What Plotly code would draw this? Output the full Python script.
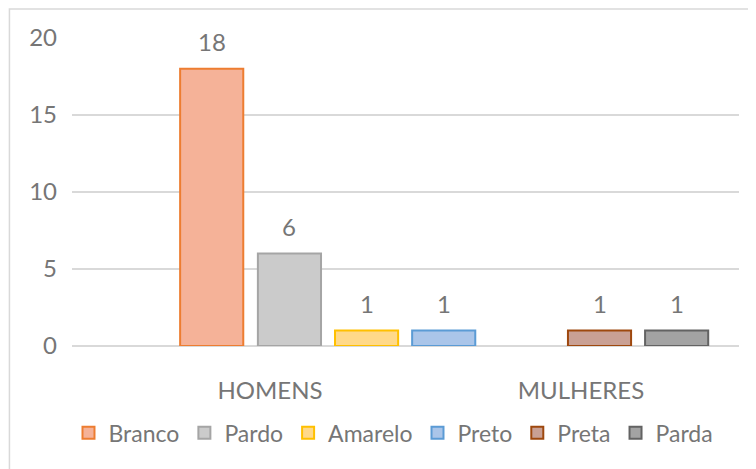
import plotly.graph_objects as go

# ---- data ----
categories = ["HOMENS", "MULHERES"]
series_names = ["Branco", "Pardo", "Amarelo", "Preto", "Preta", "Parda"]
branco = [18, None]
pardo = [6, None]
amarelo = [1, None]
preto = [1, None]
preta = [None, 1]
parda = [None, 1]
y_ticks = [0, 5, 10, 15, 20]

# ---- styles ----
series_values = [branco, pardo, amarelo, preto, preta, parda]
fills = ["#F5B298", "#CBCBCB", "#FFD98A", "#AAC5E9", "#C9A094", "#A3A3A3"]
lines = ["#ED7D31", "#A5A5A5", "#FFC000", "#5B9BD5", "#9E480E", "#636363"]
# left edge of each series bar relative to its category position (axis units)
slot_offsets = [-0.289, -0.039, 0.209, 0.457, -0.042, 0.206]
bar_width = 0.203

FONT = "Lato"
TXT = "#767676"
GRID = "#D9D9D9"

fig = go.Figure()
annotations = []
xpos = list(range(len(categories)))
for name, vals, fc, lc, off in zip(series_names, series_values, fills, lines, slot_offsets):
    fig.add_trace(go.Bar(
        x=xpos, y=vals, name=name,
        offset=off, width=bar_width,
        marker=dict(color=fc, line=dict(color=lc, width=2)),
    ))
    for i, v in enumerate(vals):
        if v is not None:
            annotations.append(dict(
                x=i + off + bar_width / 2, y=v, xref="x", yref="y",
                text=str(v), showarrow=False, yanchor="middle", yshift=27,
                font=dict(family=FONT, size=24, color=TXT),
            ))

# page body has an 8px margin, so the figure is 8px smaller and shifted
fig.update_layout(
    width=748, height=461,
    margin=dict(l=64, r=17, t=30, b=123),
    paper_bgcolor="white", plot_bgcolor="white",
    barmode="overlay",
    font=dict(family=FONT, size=24, color=TXT),
    showlegend=True,
    legend=dict(
        orientation="h", x=0.482, xanchor="center", y=-0.282, yanchor="middle",
        font=dict(family=FONT, size=23, color=TXT),
        itemwidth=30, tracegroupgap=0,
    ),
    annotations=annotations,
    shapes=[dict(
        type="rect", xref="paper", yref="paper",
        x0=-0.0938, x1=1.06, y0=-0.45, y1=1.094,
        line=dict(color=GRID, width=1.5), fillcolor="rgba(0,0,0,0)", layer="below",
    )],
)
fig.update_xaxes(
    range=[-0.6367, 1.508], tickvals=xpos, ticktext=categories,
    showgrid=False, zeroline=False, showline=False, ticks="",
    ticklabelstandoff=28,
    tickfont=dict(family=FONT, size=24, color=TXT),
)
fig.update_yaxes(
    range=[0, 20], tickvals=y_ticks, showgrid=True, gridcolor=GRID, gridwidth=1.5,
    zeroline=True, zerolinecolor=GRID, zerolinewidth=1.5, showline=False, ticks="",
    ticklabelstandoff=14,
    tickfont=dict(family=FONT, size=24, color=TXT),
)

fig.write_html("out.html")
